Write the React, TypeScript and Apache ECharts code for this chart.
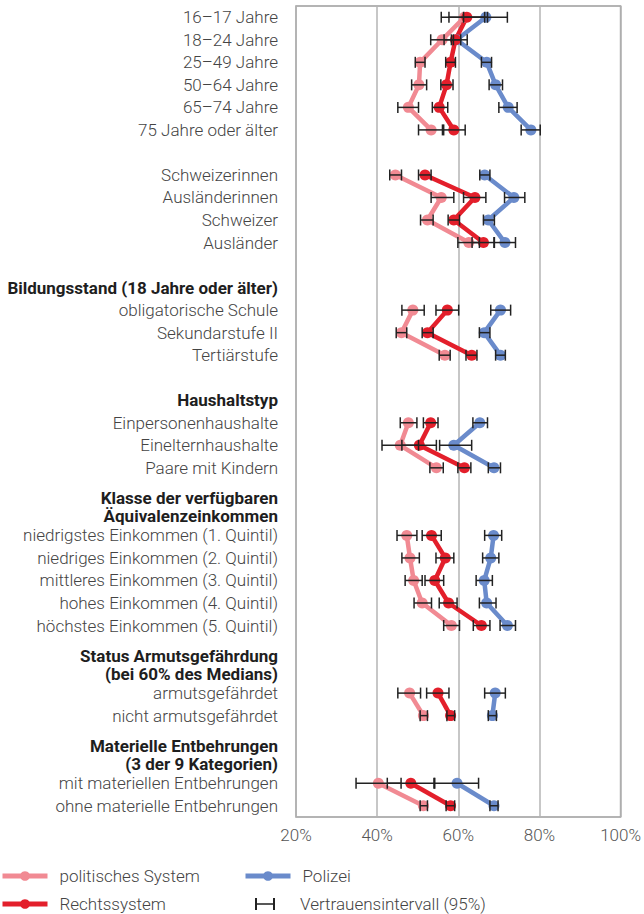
import React, { useEffect, useRef } from "react";
import * as echarts from "echarts";

// ---- data ----
const categories: string[] = [
  "16–17 Jahre", "18–24 Jahre", "25–49 Jahre", "50–64 Jahre", "65–74 Jahre", "75 Jahre oder älter",
  "Schweizerinnen", "Ausländerinnen", "Schweizer", "Ausländer",
  "obligatorische Schule", "Sekundarstufe II", "Tertiärstufe",
  "Einpersonenhaushalte", "Einelternhaushalte", "Paare mit Kindern",
  "niedrigstes Einkommen (1. Quintil)", "niedriges Einkommen (2. Quintil)", "mittleres Einkommen (3. Quintil)",
  "hohes Einkommen (4. Quintil)", "höchstes Einkommen (5. Quintil)",
  "armutsgefährdet", "nicht armutsgefährdet",
  "mit materiellen Entbehrungen", "ohne materielle Entbehrungen",
];
const groupOf: number[] = [0, 0, 0, 0, 0, 0, 1, 1, 1, 1, 2, 2, 2, 3, 3, 3, 4, 4, 4, 4, 4, 5, 5, 6, 6];
const groupHeaders: string[][] = [
  [],
  [],
  ["Bildungsstand (18 Jahre oder älter)"],
  ["Haushaltstyp"],
  ["Klasse der verfügbaren", "Äquivalenzeinkommen"],
  ["Status Armutsgefährdung", "(bei 60% des Medians)"],
  ["Materielle Entbehrungen", "(3 der 9 Kategorien)"],
];

const polSys = [61.5, 56.0, 50.6, 50.3, 47.7, 53.3, 44.5, 55.8, 52.4, 62.6, 48.8, 46.0, 56.7, 47.7, 45.7, 54.6, 47.3, 48.1, 49.0, 51.1, 58.3, 48.0, 51.4, 40.3, 51.4];
const polSysLow = [55.8, 53.2, 49.4, 48.5, 45.1, 50.2, 43.1, 53.3, 50.7, 59.9, 46.1, 44.7, 55.3, 45.7, 41.2, 53.0, 44.9, 46.1, 46.9, 49.1, 56.4, 45.1, 50.6, 34.8, 50.6];
const polSysHigh = [67.2, 58.8, 51.8, 52.2, 50.2, 56.1, 46.0, 58.9, 53.8, 65.2, 51.6, 47.3, 58.0, 49.8, 50.2, 56.3, 49.8, 50.4, 51.1, 53.4, 60.3, 50.7, 52.4, 45.9, 52.4];

const polizei = [66.8, 59.6, 67.0, 69.2, 72.3, 77.9, 66.5, 73.7, 67.4, 71.5, 70.4, 66.4, 70.4, 65.3, 58.9, 68.8, 68.7, 68.0, 66.4, 67.0, 72.1, 69.1, 68.4, 59.7, 68.8];
const polizeiLow = [61.3, 58.3, 65.7, 67.6, 70.0, 75.5, 65.3, 71.4, 66.2, 68.8, 68.0, 65.2, 69.2, 63.6, 55.4, 67.4, 66.5, 66.0, 64.4, 65.2, 70.3, 66.5, 67.4, 54.2, 67.8];
const polizeiHigh = [72.1, 60.6, 68.2, 70.9, 74.5, 80.2, 67.8, 76.4, 68.9, 74.1, 72.9, 67.8, 71.6, 67.2, 63.3, 70.4, 70.7, 70.0, 68.4, 69.3, 74.1, 71.6, 69.4, 65.0, 69.8];

const recht = [62.1, 59.3, 58.1, 57.1, 55.3, 58.9, 51.8, 64.1, 58.9, 66.2, 57.3, 52.4, 63.3, 53.2, 50.4, 61.5, 53.4, 56.8, 54.2, 57.6, 65.7, 55.0, 58.1, 48.3, 58.1];
const rechtLow = [57.7, 56.5, 56.9, 55.7, 53.6, 56.4, 50.2, 61.3, 57.5, 63.4, 54.5, 51.1, 61.9, 51.4, 46.1, 59.9, 51.1, 54.5, 51.8, 55.3, 63.7, 52.2, 57.2, 42.5, 57.0];
const rechtHigh = [66.5, 62.2, 59.3, 58.7, 57.4, 61.7, 53.3, 66.8, 60.3, 68.9, 60.1, 53.8, 64.6, 55.0, 54.6, 63.1, 55.8, 58.9, 56.4, 59.7, 67.8, 57.7, 59.1, 54.0, 59.1];

const xTicks = [20, 40, 60, 80, 100];
const seriesNames = ["politisches System", "Polizei", "Rechtssystem"];
const ciName = "Vertrauensintervall (95%)";

const COLORS: Record<string, string> = {
  "politisches System": "#F18A93",
  Polizei: "#6A8BCB",
  Rechtssystem: "#E31F2B",
};

// ---- layout of rows (derived) ----
const rowPos: number[] = [];
const headerPos: { pos: number; lines: string[] }[] = [];
(() => {
  let slot = 0;
  for (let i = 0; i < categories.length; i++) {
    if (i > 0 && groupOf[i] !== groupOf[i - 1]) {
      const h = groupHeaders[groupOf[i]];
      if (h.length === 0) {
        slot += 1;
      } else if (h.length === 1) {
        slot += 1;
        headerPos.push({ pos: slot, lines: h });
        slot += 1;
      } else {
        headerPos.push({ pos: slot + 0.75, lines: h });
        slot += 2;
      }
    }
    rowPos.push(slot);
    slot += 1;
  }
})();
const maxSlot = rowPos[rowPos.length - 1];

const labelMap = new Map<number, string>();
categories.forEach((c, i) => labelMap.set(Math.round(rowPos[i] * 4), c));
headerPos.forEach((h) => labelMap.set(Math.round(h.pos * 4), h.lines.map((l) => `{h|${l}}`).join("\n")));

function lineSeries(name: string, vals: number[]) {
  const out: any[] = [];
  const groups = Array.from(new Set(groupOf));
  groups.forEach((g) => {
    const data: number[][] = [];
    vals.forEach((v, i) => {
      if (groupOf[i] === g) data.push([v, rowPos[i]]);
    });
    out.push({
      type: "line",
      name,
      data,
      symbol: "circle",
      symbolSize: 11,
      lineStyle: { width: 4.5, color: COLORS[name] },
      itemStyle: { color: COLORS[name], borderWidth: 0 },
      z: 2,
    });
  });
  return out;
}

const ciData: number[][] = [];
[
  [polSysLow, polSysHigh],
  [polizeiLow, polizeiHigh],
  [rechtLow, rechtHigh],
].forEach(([lo, hi]) => {
  lo.forEach((l, i) => ciData.push([l, hi[i], rowPos[i]]));
});

export default function App() {
  const ref = useRef<HTMLDivElement>(null);
  useEffect(() => {
    if (!ref.current) return;
    const chart = echarts.init(ref.current, undefined, { renderer: "svg" });
    const font = "Roboto";
    const FS = 17;
    const legendText = { fontSize: FS, fontWeight: 300, color: "#444", fontFamily: font, lineHeight: 18 };
    const option: any = {
      animation: false,
      textStyle: { fontFamily: font },
      grid: {
        left: 296,
        right: 20,
        top: 6,
        bottom: 97,
        show: true,
        borderColor: "#9c9c9c",
        borderWidth: 1.5,
      },
      xAxis: {
        type: "value",
        min: 20,
        max: 100,
        interval: 20,
        axisLine: { show: false },
        axisTick: { show: false },
        splitLine: { show: true, lineStyle: { color: "#b4b4b4", width: 1.5 } },
        axisLabel: {
          formatter: (v: number) => (xTicks.includes(v) ? `${v}%` : ""),
          color: "#555",
          fontSize: FS,
          fontWeight: 300,
          fontFamily: font,
          margin: 9,
        },
      },
      yAxis: {
        type: "value",
        inverse: true,
        min: -0.5,
        max: maxSlot + 0.5,
        interval: 0.25,
        axisLine: { show: false },
        axisTick: { show: false },
        splitLine: { show: false },
        axisLabel: {
          margin: 18,
          color: "#444",
          fontSize: FS,
          fontWeight: 300,
          fontFamily: font,
          formatter: (v: number) => labelMap.get(Math.round(v * 4)) ?? "",
          rich: {
            h: {
              fontWeight: "bold",
              color: "#1e1e1e",
              fontSize: FS,
              fontFamily: font,
              lineHeight: 18.5,
              align: "right",
            },
          },
        },
      },
      legend: [
        {
          data: ["politisches System", "Rechtssystem"],
          orient: "vertical",
          left: 0,
          top: 867,
          padding: 0,
          itemWidth: 45,
          itemHeight: 12,
          itemGap: 10,
          selectedMode: false,
          lineStyle: { width: 5 },
          textStyle: { ...legendText, padding: [0, 0, 0, 7] },
        },
        {
          data: ["Polizei"],
          left: 243,
          top: 867,
          padding: 0,
          itemWidth: 45,
          itemHeight: 12,
          selectedMode: false,
          lineStyle: { width: 5 },
          textStyle: { ...legendText, padding: [0, 0, 0, 7] },
        },
        {
          data: [
            {
              name: ciName,
              icon: "path://M0,0h2v12h-2zM0,5.2h20v1.6h-20zM18,0h2v12h-2z",
              itemStyle: { color: "#222" },
            },
          ],
          left: 255,
          top: 895,
          padding: 0,
          itemWidth: 20,
          itemHeight: 12,
          selectedMode: false,
          textStyle: { ...legendText, padding: [0, 0, 0, 20] },
        },
      ],
      series: [
        ...lineSeries(seriesNames[0], polSys),
        ...lineSeries(seriesNames[1], polizei),
        ...lineSeries(seriesNames[2], recht),
        {
          type: "custom",
          name: ciName,
          itemStyle: { color: "#222" },
          z: 5,
          encode: { x: [0, 1], y: 2 },
          data: ciData,
          renderItem: (params: any, api: any) => {
            const lo = api.coord([api.value(0), api.value(2)]);
            const hi = api.coord([api.value(1), api.value(2)]);
            const h = 5.5;
            const st = { stroke: "#222", lineWidth: 1.5 };
            return {
              type: "group",
              children: [
                { type: "line", shape: { x1: lo[0], y1: lo[1], x2: hi[0], y2: hi[1] }, style: st },
                { type: "line", shape: { x1: lo[0], y1: lo[1] - h, x2: lo[0], y2: lo[1] + h }, style: st },
                { type: "line", shape: { x1: hi[0], y1: hi[1] - h, x2: hi[0], y2: hi[1] + h }, style: st },
              ],
            };
          },
        },
      ],
    };
    chart.setOption(option);
    return () => chart.dispose();
  }, []);
  return (
    <div
      ref={ref}
      style={{ position: "absolute", left: 0, top: 0, width: 644, height: 914, background: "#fff" }}
    />
  );
}
